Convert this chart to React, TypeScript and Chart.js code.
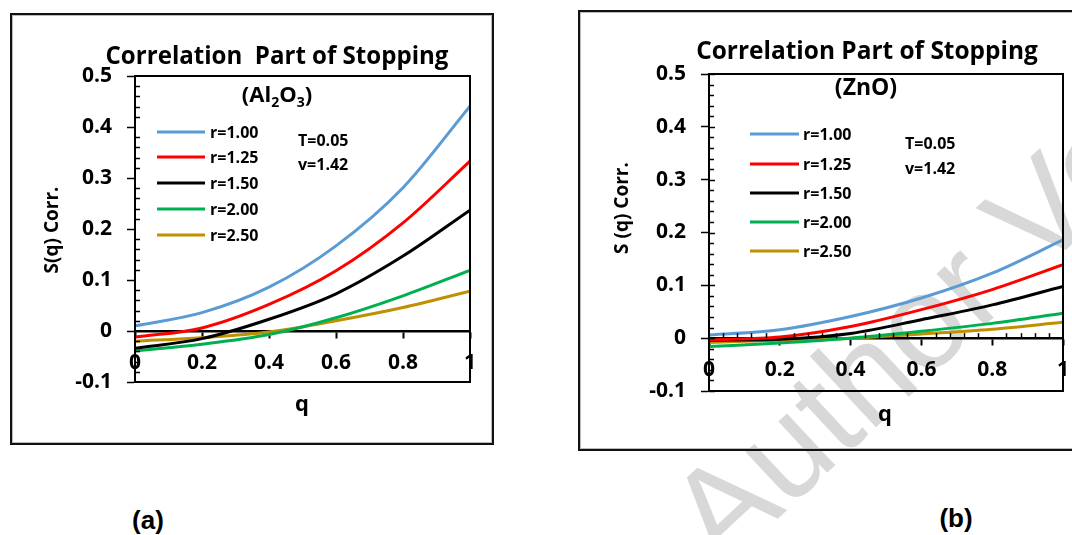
import React, { useEffect, useRef } from "react";
import { Chart, registerables } from "chart.js";

Chart.register(...registerables);

// ---------------- data ----------------
const qValues = [0, 0.2, 0.4, 0.6, 0.8, 1.0];
const seriesLabels = ["r=1.00", "r=1.25", "r=1.50", "r=2.00", "r=2.50"];
const seriesColors = ["#5B9BD5", "#FF0000", "#000000", "#00B050", "#BF9000"];

// (a) Al2O3
const al2o3_r100 = [0.010, 0.036, 0.086, 0.167, 0.281, 0.441];
const al2o3_r125 = [-0.012, 0.006, 0.052, 0.118, 0.212, 0.333];
const al2o3_r150 = [-0.034, -0.015, 0.023, 0.073, 0.147, 0.237];
const al2o3_r200 = [-0.039, -0.026, -0.007, 0.026, 0.069, 0.119];
const al2o3_r250 = [-0.020, -0.013, -0.002, 0.020, 0.046, 0.078];

// (b) ZnO
const zno_r100 = [0.006, 0.016, 0.041, 0.076, 0.123, 0.186];
const zno_r125 = [-0.003, 0.002, 0.022, 0.054, 0.092, 0.139];
const zno_r150 = [-0.004, -0.002, 0.009, 0.035, 0.063, 0.098];
const zno_r200 = [-0.016, -0.009, 0.000, 0.013, 0.028, 0.047];
const zno_r250 = [-0.008, -0.004, 0.000, 0.008, 0.017, 0.030];

const xTickMin = 0;
const xTickMax = 1;
const xTickStep = 0.2;
const yTickMin = -0.1;
const yTickMax = 0.5;
const yTickStep = 0.1;

const chartTitle = "Correlation  Part of Stopping";
const chartTitleB = "Correlation Part of Stopping";
const paramLines = ["T=0.05", "v=1.42"];
const panelLabels = ["(a)", "(b)"];
const watermarkText = "Author Version";

// ---------------- layout ----------------
const FONT = '"Open Sans", "DejaVu Sans", sans-serif';

type Seg = [string, boolean];
type Panel = {
  frame: { x: number; y: number; w: number; h: number };
  canvas: { x: number; y: number; w: number; h: number };
  area: { l: number; t: number; r: number; b: number };
  title: { text: string; cx: number; cy: number; width: number };
  sub: { segs: Seg[]; cx: number; cy: number; size: number };
  legend: { x1: number; x2: number; tx: number; rows: number[] };
  params: { x: number; rows: number[] };
  yTitle: { text: string; cx: number; cy: number };
  xTitle: { cx: number; cy: number };
  series: number[][];
  xMinor: boolean;
  yMajorInside: boolean;
};

const panels: Panel[] = [
  {
    frame: { x: 10, y: 13, w: 484, h: 432 },
    canvas: { x: 12, y: 15, w: 480, h: 428 },
    area: { l: 135, t: 76, r: 470, b: 382 },
    title: { text: chartTitle, cx: 277, cy: 57, width: 343 },
    sub: { segs: [["(Al", false], ["2", true], ["O", false], ["3", true], [")", false]], cx: 277, cy: 96, size: 22 },
    legend: { x1: 157, x2: 205, tx: 210, rows: [132, 157, 183, 209, 235] },
    params: { x: 298, rows: [141, 165] },
    yTitle: { text: "S(q) Corr.", cx: 53, cy: 230 },
    xTitle: { cx: 302, cy: 405 },
    series: [al2o3_r100, al2o3_r125, al2o3_r150, al2o3_r200, al2o3_r250],
    xMinor: false,
    yMajorInside: false,
  },
  {
    frame: { x: 578, y: 10, w: 520, h: 441 },
    canvas: { x: 580, y: 12, w: 492, h: 437 },
    area: { l: 709, t: 74, r: 1063, b: 391 },
    title: { text: chartTitleB, cx: 867, cy: 52, width: 342 },
    sub: { segs: [["(ZnO)", false]], cx: 866, cy: 88, size: 23 },
    legend: { x1: 750, x2: 799, tx: 803, rows: [134, 164, 193, 222, 251] },
    params: { x: 905, rows: [144, 169] },
    yTitle: { text: "S (q) Corr.", cx: 623, cy: 208 },
    xTitle: { cx: 885, cy: 415 },
    series: [zno_r100, zno_r125, zno_r150, zno_r200, zno_r250],
    xMinor: true,
    yMajorInside: true,
  },
];

function fmt(v: number): string {
  if (Math.abs(v) < 1e-9) return "0";
  return String(Number(v.toFixed(2)));
}

function makeDecor(p: Panel) {
  const ox = p.canvas.x;
  const oy = p.canvas.y;
  return {
    id: "decor",
    afterDraw(chart: any) {
      const ctx: CanvasRenderingContext2D = chart.ctx;
      const ca = chart.chartArea;
      const xs = chart.scales.x;
      const ys = chart.scales.y;
      ctx.save();
      // plot box
      ctx.strokeStyle = "#000";
      ctx.lineWidth = 2;
      ctx.strokeRect(ca.left, ca.top, ca.right - ca.left, ca.bottom - ca.top);

      // y minor ticks (inside)
      ctx.lineWidth = 1.5;
      for (let i = 0; i <= 30; i++) {
        const v = yTickMin + i * 0.02;
        const py = Math.round(ys.getPixelForValue(v)) + 0.5;
        const isMajor = i % 5 === 0;
        if (isMajor && !p.yMajorInside) continue;
        ctx.beginPath();
        ctx.moveTo(ca.left, py);
        ctx.lineTo(ca.left + (isMajor ? 6 : 5), py);
        ctx.stroke();
      }
      // x minor ticks (above zero line)
      if (p.xMinor) {
        const y0 = ys.getPixelForValue(0);
        for (let i = 1; i < 25; i++) {
          if (i % 5 === 0) continue;
          const px = Math.round(xs.getPixelForValue(i * 0.04)) + 0.5;
          ctx.beginPath();
          ctx.moveTo(px, y0);
          ctx.lineTo(px, y0 - 5);
          ctx.stroke();
        }
      }

      ctx.fillStyle = "#000";
      ctx.textBaseline = "middle";
      // title (fitted to width)
      ctx.font = `bold 20px ${FONT}`;
      const w20 = ctx.measureText(p.title.text).width;
      const tsize = (20 * p.title.width) / w20;
      ctx.font = `bold ${tsize}px ${FONT}`;
      ctx.textAlign = "center";
      ctx.fillText(p.title.text, p.title.cx - ox, p.title.cy - oy);

      // subtitle with subscripts
      const big = `bold ${p.sub.size}px ${FONT}`;
      const small = `bold ${Math.round(p.sub.size * 0.62)}px ${FONT}`;
      let total = 0;
      for (const [t, s] of p.sub.segs) {
        ctx.font = s ? small : big;
        total += ctx.measureText(t).width;
      }
      let sx = p.sub.cx - ox - total / 2;
      ctx.textAlign = "left";
      for (const [t, s] of p.sub.segs) {
        ctx.font = s ? small : big;
        ctx.fillText(t, sx, p.sub.cy - oy + (s ? p.sub.size * 0.3 : 0));
        sx += ctx.measureText(t).width;
      }

      // legend
      ctx.font = `bold 16px ${FONT}`;
      seriesLabels.forEach((lab, i) => {
        const ry = p.legend.rows[i] - oy;
        ctx.strokeStyle = seriesColors[i];
        ctx.lineWidth = 3;
        ctx.beginPath();
        ctx.moveTo(p.legend.x1 - ox, ry);
        ctx.lineTo(p.legend.x2 - ox, ry);
        ctx.stroke();
        ctx.fillText(lab, p.legend.tx - ox, ry + 1);
      });

      // parameters
      ctx.font = `bold 16px ${FONT}`;
      paramLines.forEach((t, i) => ctx.fillText(t, p.params.x - ox, p.params.rows[i] - oy));

      // axis titles
      ctx.textAlign = "center";
      ctx.font = `bold 22px ${FONT}`;
      ctx.fillText("q", p.xTitle.cx - ox, p.xTitle.cy - oy);
      ctx.save();
      ctx.translate(p.yTitle.cx - ox, p.yTitle.cy - oy);
      ctx.rotate(-Math.PI / 2);
      ctx.font = `bold 19px ${FONT}`;
      ctx.fillText(p.yTitle.text, 0, 0);
      ctx.restore();

      ctx.restore();
    },
  };
}

function PanelChart({ p }: { p: Panel }) {
  const ref = useRef<HTMLCanvasElement | null>(null);
  useEffect(() => {
    if (!ref.current) return;
    const tickFont = { family: FONT, size: 21, weight: "bold" as const };
    const chart = new Chart(ref.current, {
      type: "line",
      data: {
        datasets: p.series.map((vals, i) => ({
          label: seriesLabels[i],
          data: qValues.map((q, j) => ({ x: q, y: vals[j] })),
          borderColor: seriesColors[i],
          backgroundColor: seriesColors[i],
          borderWidth: 3,
          pointRadius: 0,
          cubicInterpolationMode: "monotone" as const,
          fill: false,
        })),
      },
      options: {
        responsive: false,
        animation: false,
        events: [],
        layout: {
          padding: {
            left: 0,
            top: p.area.t - p.canvas.y,
            right: p.canvas.x + p.canvas.w - p.area.r,
            bottom: p.canvas.y + p.canvas.h - p.area.b,
          },
        },
        plugins: {
          legend: { display: false },
          tooltip: { enabled: false },
          title: { display: false },
        },
        scales: {
          x: {
            type: "linear",
            min: xTickMin,
            max: xTickMax,
            position: { y: 0 } as any,
            afterFit: (s: any) => {
              s.paddingLeft = 0;
              s.paddingRight = 0;
            },
            ticks: {
              stepSize: xTickStep,
              autoSkip: false,
              maxRotation: 0,
              color: "#000",
              font: tickFont,
              padding: 13,
              callback: (v: any) => fmt(Number(v)),
            },
            grid: {
              drawOnChartArea: false,
              drawTicks: true,
              tickLength: 6,
              tickColor: "#000",
              tickWidth: 2,
            },
            border: { display: true, color: "#000", width: 2.5 },
          },
          y: {
            type: "linear",
            min: yTickMin,
            max: yTickMax,
            position: "left",
            afterFit: (s: any) => {
              s.width = p.area.l - p.canvas.x;
              s.paddingTop = 0;
              s.paddingBottom = 0;
            },
            ticks: {
              stepSize: yTickStep,
              color: "#000",
              font: tickFont,
              padding: 15,
              callback: (v: any) => fmt(Number(v)),
            },
            grid: {
              drawOnChartArea: false,
              drawTicks: true,
              tickLength: 8,
              tickColor: "#000",
              tickWidth: 1.5,
            },
            border: { display: true, color: "#000", width: 2 },
          },
        },
      },
      plugins: [makeDecor(p)],
    });
    return () => chart.destroy();
  }, [p]);
  return (
    <canvas
      ref={ref}
      width={p.canvas.w}
      height={p.canvas.h}
      style={{ position: "absolute", left: p.canvas.x, top: p.canvas.y, width: p.canvas.w, height: p.canvas.h }}
    />
  );
}

export default function App() {
  return (
    <div
      style={{
        position: "absolute",
        left: 0,
        top: 0,
        width: 1072,
        height: 535,
        overflow: "hidden",
        background: "#fff",
        fontFamily: FONT,
      }}
    >
      <div
        style={{
          position: "absolute",
          left: 645,
          top: 488,
          fontFamily: '"Liberation Sans", Arial, sans-serif',
          fontSize: 134,
          lineHeight: 1,
          color: "#d8d8d8",
          whiteSpace: "nowrap",
          transform: "rotate(-43deg)",
          transformOrigin: "0 0",
        }}
      >
        {watermarkText}
      </div>
      {panels.map((p, i) => (
        <div
          key={"f" + i}
          style={{
            position: "absolute",
            left: p.frame.x,
            top: p.frame.y,
            width: p.frame.w,
            height: p.frame.h,
            boxSizing: "border-box",
            border: "2px solid #111",
            boxShadow: "inset 0 0 0 1px #bbb",
          }}
        />
      ))}
      {panels.map((p, i) => (
        <PanelChart key={"c" + i} p={p} />
      ))}
      <div style={{ position: "absolute", left: 148, top: 520, transform: "translate(-50%,-50%)", fontFamily: '"Liberation Sans", Arial, sans-serif', fontWeight: "bold", fontSize: 26 }}>
        {panelLabels[0]}
      </div>
      <div style={{ position: "absolute", left: 956, top: 518, transform: "translate(-50%,-50%)", fontFamily: '"Liberation Sans", Arial, sans-serif', fontWeight: "bold", fontSize: 26 }}>
        {panelLabels[1]}
      </div>
    </div>
  );
}
